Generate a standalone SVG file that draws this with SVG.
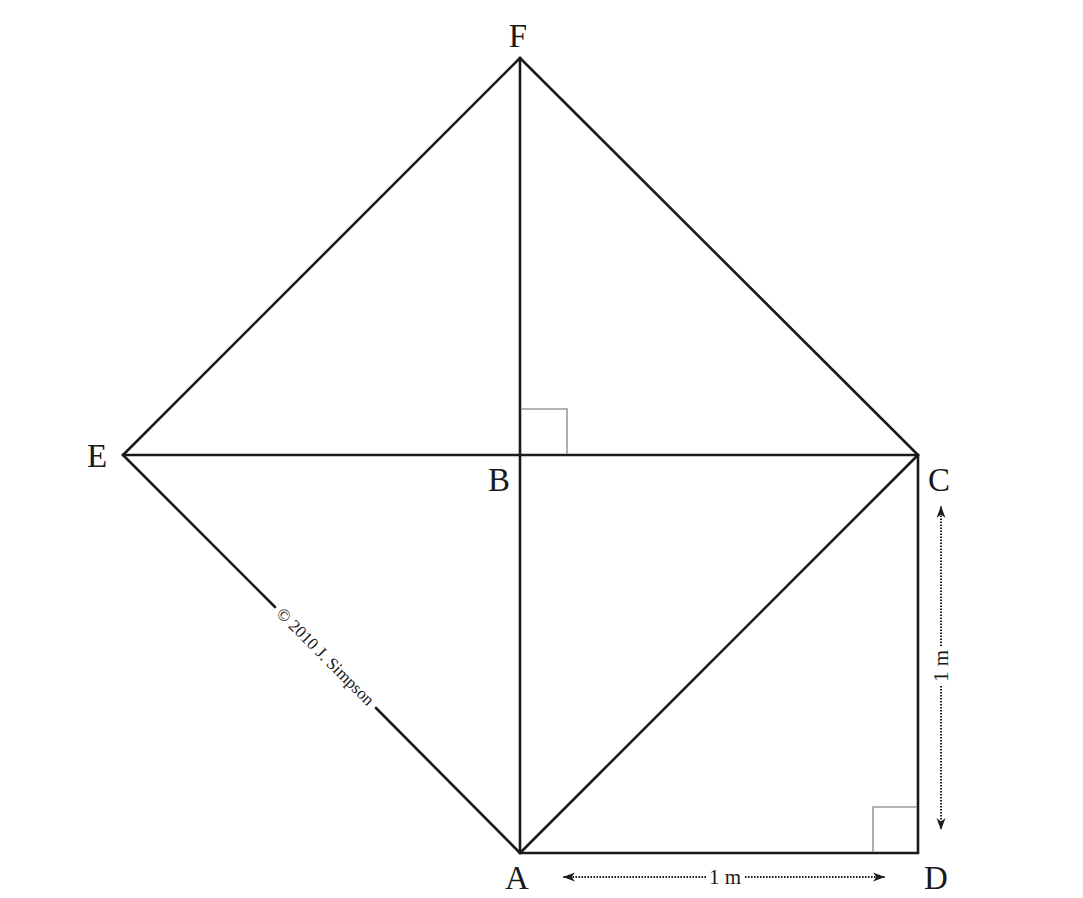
<svg xmlns="http://www.w3.org/2000/svg" width="1083" height="898" viewBox="0 0 1083 898">
<defs>
<style>
.edge{stroke:#1a1a1a;stroke-width:2.6;fill:none;stroke-linecap:round;stroke-linejoin:round}
.ra{stroke:#9a9a9a;stroke-width:1.6;fill:none}
.dim{stroke:#222;stroke-width:2;stroke-dasharray:1.6 1.4;fill:none}
.lbl{font-family:"Liberation Serif","Times New Roman",serif;font-size:33px;fill:#1a1a1a;text-anchor:middle}
.dl{font-family:"Liberation Serif","Times New Roman",serif;font-size:21px;fill:#1a1a1a;text-anchor:middle}
.cp{font-family:"Liberation Serif","Times New Roman",serif;font-size:17px;fill:#1a1a1a;text-anchor:middle}
</style>
<marker id="ah" viewBox="0 0 12 10" refX="12" refY="5" markerWidth="12" markerHeight="10" markerUnits="userSpaceOnUse" orient="auto-start-reverse">
<path d="M0,0.5 L12,5 L0,9.5 L3.5,5 Z" fill="#1a1a1a"/>
</marker>
</defs>
<rect width="1083" height="898" fill="#fff"/>
<g id="connectors">
<line class="edge" x1="520" y1="58" x2="123" y2="455"/>
<line class="edge" x1="520" y1="58" x2="918" y2="455"/>
<line class="edge" x1="520" y1="58" x2="520" y2="853"/>
<line class="edge" x1="123" y1="455" x2="918" y2="455"/>
<line class="edge" x1="123" y1="455" x2="275" y2="607"/>
<line class="edge" x1="376" y1="708" x2="520" y2="853"/>
<line class="edge" x1="520" y1="853" x2="918" y2="455"/>
<line class="edge" x1="918" y1="455" x2="918" y2="853"/>
<line class="edge" x1="520" y1="853" x2="918" y2="853"/>
<polyline class="ra" points="521,409 567,409 567,454"/>
<polyline class="ra" points="873,852 873,807 917,807"/>
<line class="dim" x1="706" y1="877" x2="563" y2="877" marker-end="url(#ah)"/>
<line class="dim" x1="745" y1="877" x2="885" y2="877" marker-end="url(#ah)"/>
<line class="dim" x1="941" y1="646" x2="941" y2="506" marker-end="url(#ah)"/>
<line class="dim" x1="941" y1="686" x2="941" y2="830" marker-end="url(#ah)"/>
</g>
<g id="node-F"><text class="lbl" x="518" y="47">F</text></g>
<g id="node-E"><text class="lbl" x="97" y="467">E</text></g>
<g id="node-B"><text class="lbl" x="499" y="491">B</text></g>
<g id="node-C"><text class="lbl" x="939" y="491">C</text></g>
<g id="node-A"><text class="lbl" x="517" y="889">A</text></g>
<g id="node-D"><text class="lbl" x="936" y="889">D</text></g>
<g id="dim-h"><text class="dl" x="725" y="884">1 m</text></g>
<g id="dim-v"><text class="dl" transform="translate(948,666) rotate(-90)">1 m</text></g>
<g id="copyright"><text class="cp" transform="translate(325,657) rotate(45)" y="5">© 2010 J. Simpson</text></g>
</svg>
